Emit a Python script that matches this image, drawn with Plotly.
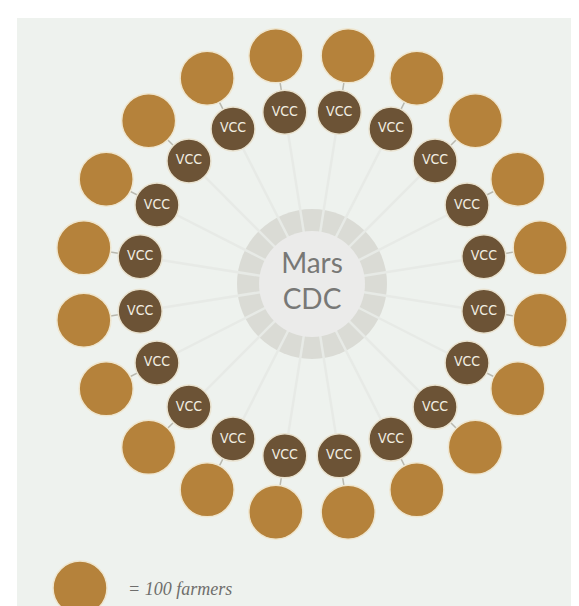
import numpy as np
import plotly.graph_objects as go

# ---- data ----
center_label = "Mars CDC"
vcc_labels = ["VCC"] * 20
farmers_per_vcc = [100] * 20          # each large circle = 100 farmers
legend_text = "= 100 farmers"
legend_unit = 100

W, H = 579, 606
cx, cy = 304, 276
r_vcc, r_farm = 174, 231
n = len(vcc_labels)
step = 360 / n
ang = np.deg2rad(step / 2 + step * np.arange(n))
vx = cx + r_vcc * np.sin(ang)
vy = cy - r_vcc * np.cos(ang)
fx = cx + r_farm * np.sin(ang)
fy = cy - r_farm * np.cos(ang)

GOLD = "#b5823b"
BROWN = "#6c5336"
BG = "#eef2ee"

fig = go.Figure()

# spokes from centre to VCCs
sx, sy = [], []
for x, y in zip(vx, vy):
    sx += [cx, x, None]
    sy += [cy, y, None]

# gray ring
fig.add_trace(go.Scatter(x=[cx], y=[cy], mode="markers", hoverinfo="skip",
                         marker=dict(size=150, color="#dadbd5", line=dict(width=0))))
fig.add_trace(go.Scatter(x=sx, y=sy, mode="lines", hoverinfo="skip",
                         line=dict(color="#e7eae6", width=2.5)))
# inner circle
fig.add_trace(go.Scatter(x=[cx], y=[cy], mode="markers+text", text=["Mars<br>CDC"],
                         textfont=dict(size=28, color="#787876", family="Lato"),
                         textposition="middle center", hoverinfo="skip",
                         marker=dict(size=106, color="#ebebea", line=dict(width=0))))

# connectors VCC -> farmers
lx, ly = [], []
for a, b, c, d in zip(vx, vy, fx, fy):
    lx += [a, c, None]
    ly += [b, d, None]
fig.add_trace(go.Scatter(x=lx, y=ly, mode="lines", hoverinfo="skip",
                         line=dict(color="#b9b8ae", width=1.5)))

# farmer circles
fig.add_trace(go.Scatter(x=fx, y=fy, mode="markers", customdata=farmers_per_vcc,
                         hovertemplate="%{customdata} farmers<extra></extra>",
                         marker=dict(size=54, color=GOLD, line=dict(width=1.5, color="#efe6cf"))))
# VCC circles
fig.add_trace(go.Scatter(x=vx, y=vy, mode="markers+text", text=vcc_labels,
                         textposition="middle center",
                         textfont=dict(size=14, color="#f2eee2", family="DejaVu Sans Condensed"),
                         hoverinfo="skip",
                         marker=dict(size=44, color=BROWN, line=dict(width=1.5, color="#e9e2cf"))))

# legend circle
fig.add_trace(go.Scatter(x=[72], y=[580], mode="markers", hoverinfo="skip",
                         marker=dict(size=54, color=GOLD, line=dict(width=1.5, color="#efe6cf"))))
fig.add_annotation(x=118, y=581, xref="x", yref="y", text="<i>" + legend_text + "</i>",
                   showarrow=False, xanchor="left", yanchor="middle",
                   font=dict(size=18, color="#6e6e6c", family="Liberation Serif"))

fig.update_layout(
    width=W, height=H, margin=dict(l=0, r=0, t=0, b=0),
    paper_bgcolor="white", plot_bgcolor="white", showlegend=False,
    xaxis=dict(range=[0, W], visible=False, fixedrange=True),
    yaxis=dict(range=[H, 0], visible=False, fixedrange=True),
    shapes=[dict(type="rect", xref="x", yref="y", x0=9, y0=10, x1=W, y1=H,
                 fillcolor=BG, line=dict(width=0), layer="below")],
)

fig.write_html("out.html")
